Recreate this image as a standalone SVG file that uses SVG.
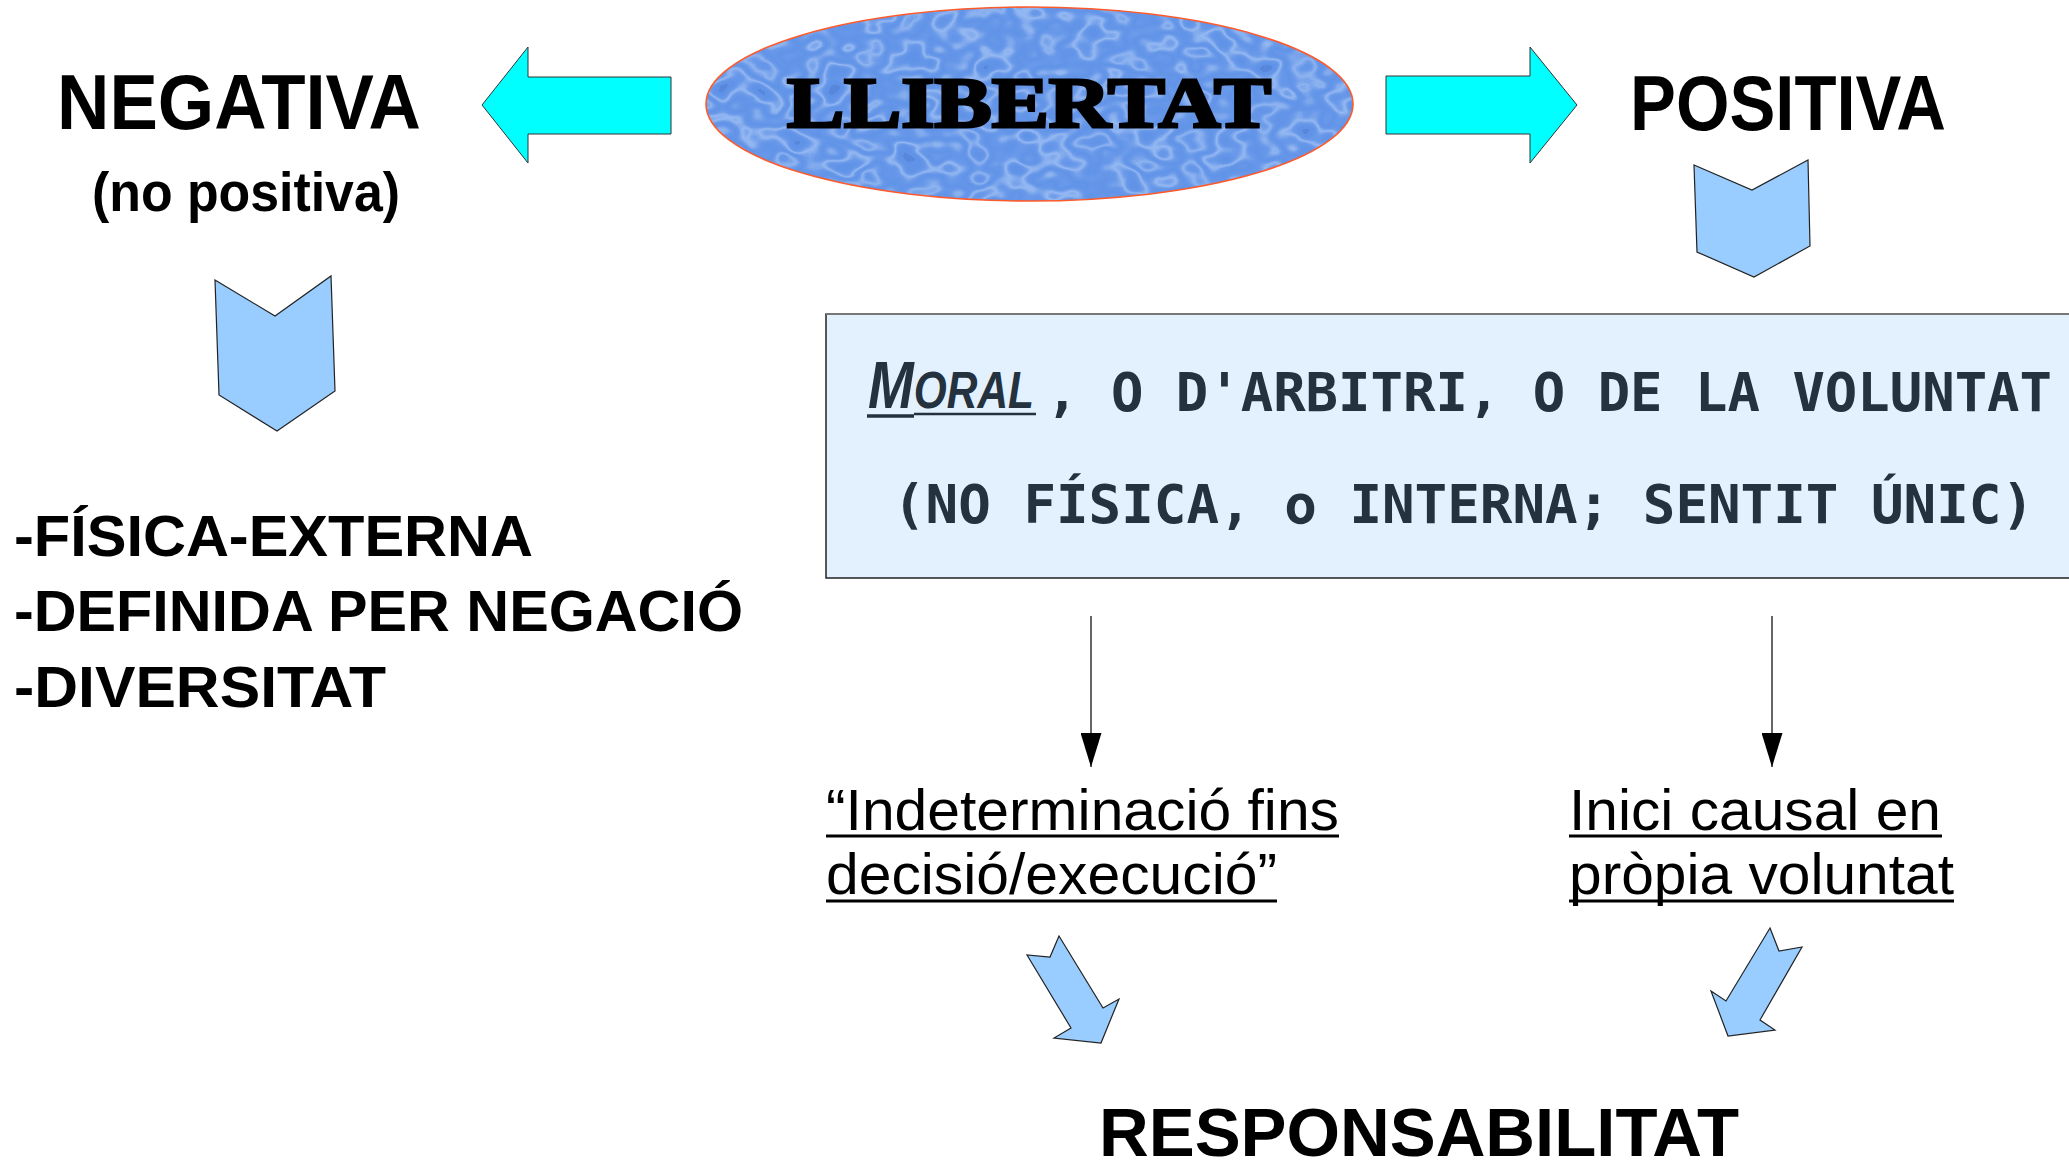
<svg xmlns="http://www.w3.org/2000/svg" width="2069" height="1161" viewBox="0 0 2069 1161">
  <style>
    .head { font-family: "Liberation Sans", Arial, sans-serif; font-weight: bold; fill: #000; }
    .list { font-family: "Liberation Sans", Arial, sans-serif; font-weight: bold; font-size: 58px; fill: #000; }
    .mono { font-family: "DejaVu Sans Mono", "Liberation Mono", monospace; font-weight: bold; font-size: 54px; fill: #24313f; }
    .moral { font-family: "Liberation Sans", Arial, sans-serif; font-weight: bold; font-style: italic; fill: #24313f; }
    .sub { font-family: "Liberation Sans", Arial, sans-serif; font-size: 58px; fill: #000; }
    .ul { stroke: #000; stroke-width: 3; }
    .cyan { fill: #00ffff; stroke: #333; stroke-width: 1; }
    .blue { fill: #99ccff; stroke: #222; stroke-width: 1.2; stroke-linejoin: miter; }
    .thin { stroke: #333; stroke-width: 1.5; fill: none; }
  </style>
  <defs>
    <marker id="tri" viewBox="0 0 34 21" refX="34" refY="10.5" markerWidth="34" markerHeight="21" markerUnits="userSpaceOnUse" orient="auto">
      <path d="M0,0 L34,10.5 L0,21 Z" fill="#000"/>
    </marker>
    <clipPath id="ellClip">
      <ellipse cx="1029.5" cy="104" rx="323.5" ry="97"/>
    </clipPath>
    <filter id="water" x="0" y="0" width="100%" height="100%" filterUnits="objectBoundingBox">
      <feTurbulence type="fractalNoise" baseFrequency="0.028 0.04" numOctaves="2" seed="7" result="n"/>
      <feColorMatrix in="n" type="matrix" values="0 0 0 0 0.72  0 0 0 0 0.84  0 0 0 0 1  1.6 0 0 0 -0.3" result="a"/>
      <feComponentTransfer in="a">
        <feFuncA type="table" tableValues="0.05 0.05 0.12 0.45 0.12 0.05 0.12 0.4 0.1 0.05"/>
      </feComponentTransfer>
    </filter>
  </defs>

  <rect width="2069" height="1161" fill="#fff"/>

  <g id="connectors">
    <polygon class="cyan" points="482,105 528,47 528,77 671,77 671,134 528,134 528,163"/>
    <polygon class="cyan" points="1386,76 1530,76 1530,47 1577,105 1530,163 1530,134 1386,134"/>
    <polygon class="blue" points="215,280 275,316 331,276 335,391 277,431 219,395"/>
    <polygon class="blue" points="1694,165 1752,190 1808,160 1810,246 1754,277 1697,252"/>
    <line class="thin" x1="1091" y1="616" x2="1091" y2="767" marker-end="url(#tri)"/>
    <line class="thin" x1="1772" y1="616" x2="1772" y2="767" marker-end="url(#tri)"/>
    <polygon class="blue" points="1059,936 1050,957 1027,955 1071,1028 1054,1038 1101,1043 1119,999 1103,1008"/>
    <polygon class="blue" points="1770,928 1779,951 1802,947 1760,1020 1775,1030 1728,1036 1711,991 1726,1001"/>
  </g>

  <g id="node-llibertat">
    <ellipse cx="1029.5" cy="104" rx="323.5" ry="97" fill="#5a8ee6"/>
    <g clip-path="url(#ellClip)">
      <rect x="700" y="0" width="660" height="210" fill="#fff" filter="url(#water)"/>
    </g>
    <ellipse cx="1029.5" cy="104" rx="323.5" ry="97" fill="none" stroke="#ff5a2a" stroke-width="1.6"/>
    <text x="787" y="127" font-family="'Liberation Serif', 'Times New Roman', serif" font-weight="bold" font-size="72" fill="#000" stroke="#000" stroke-width="3" textLength="484" lengthAdjust="spacingAndGlyphs">LLIBERTAT</text>
  </g>

  <g id="node-negativa">
    <text class="head" x="57" y="129" font-size="78" textLength="364" lengthAdjust="spacingAndGlyphs">NEGATIVA</text>
    <text class="head" x="92" y="211" font-size="55" textLength="308" lengthAdjust="spacingAndGlyphs">(no positiva)</text>
  </g>

  <g id="node-positiva">
    <text class="head" x="1630" y="130" font-size="78" textLength="316" lengthAdjust="spacingAndGlyphs">POSITIVA</text>
  </g>

  <g id="node-negativa-list">
    <text class="list" x="14" y="556" textLength="519" lengthAdjust="spacingAndGlyphs">-FÍSICA-EXTERNA</text>
    <text class="list" x="14" y="631" textLength="729" lengthAdjust="spacingAndGlyphs">-DEFINIDA PER NEGACIÓ</text>
    <text class="list" x="14" y="707" textLength="372" lengthAdjust="spacingAndGlyphs">-DIVERSITAT</text>
  </g>

  <g id="node-moral">
    <rect x="826" y="314" width="1260" height="264" fill="#e3f0fd" stroke="#222" stroke-width="1.5"/>
    <line x1="826" y1="314" x2="2069" y2="314" stroke="#777" stroke-width="2"/>
    <text class="moral" x="868" y="408" textLength="166" lengthAdjust="spacingAndGlyphs"><tspan font-size="66">M</tspan><tspan font-size="51">ORAL</tspan></text>
    <line x1="867" y1="416" x2="914" y2="416" stroke="#24313f" stroke-width="3.5"/>
    <line x1="914" y1="414" x2="1036" y2="414" stroke="#24313f" stroke-width="2.5"/>
    <text class="mono" x="1046" y="411" textLength="1006" lengthAdjust="spacingAndGlyphs">, O D'ARBITRI, O DE LA VOLUNTAT</text>
    <text class="mono" x="893" y="523" textLength="1141" lengthAdjust="spacingAndGlyphs">(NO FÍSICA, o INTERNA; SENTIT ÚNIC)</text>
  </g>

  <g id="node-indeterminacio">
    <text class="sub" x="826" y="830" textLength="513" lengthAdjust="spacingAndGlyphs">“Indeterminació fins</text>
    <line class="ul" x1="826" y1="836" x2="1339" y2="836"/>
    <text class="sub" x="826" y="894" textLength="451" lengthAdjust="spacingAndGlyphs">decisió/execució”</text>
    <line class="ul" x1="826" y1="901" x2="1277" y2="901"/>
  </g>

  <g id="node-inici">
    <text class="sub" x="1569" y="830" textLength="372" lengthAdjust="spacingAndGlyphs">Inici causal en</text>
    <line class="ul" x1="1569" y1="836" x2="1942" y2="836"/>
    <text class="sub" x="1569" y="894" textLength="385" lengthAdjust="spacingAndGlyphs">pròpia voluntat</text>
    <line class="ul" x1="1569" y1="901" x2="1954" y2="901"/>
  </g>

  <g id="node-responsabilitat">
    <text class="head" x="1099" y="1156" font-size="69" textLength="640" lengthAdjust="spacingAndGlyphs">RESPONSABILITAT</text>
  </g>
</svg>
